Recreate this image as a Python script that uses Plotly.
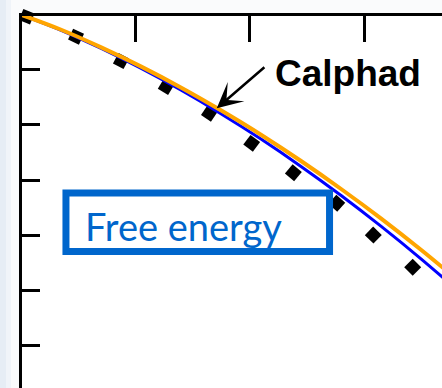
import plotly.graph_objects as go

# Reduced composition (arbitrary units) and Gibbs free energy (arbitrary units)
x_curve = [0.0, 0.35, 0.70, 1.05, 1.40, 1.75, 2.10, 2.45, 2.80, 3.15, 3.50, 3.85]
g_calphad = [0.0, -0.272, -0.591, -0.940, -1.322, -1.736, -2.178, -2.654, -3.161, -3.697, -4.266, -4.866]
g_model = [0.0, -0.281, -0.611, -0.973, -1.368, -1.797, -2.257, -2.752, -3.279, -3.839, -4.431, -5.056]

# Computed reference points
x_pts = [0.054, 0.485, 0.878, 1.271, 1.649, 2.019, 2.383, 2.762, 3.081, 3.425]
g_pts = [-0.040, -0.402, -0.842, -1.308, -1.790, -2.333, -2.866, -3.420, -3.995, -4.580]

x_ticks = [1, 2, 3]
y_ticks = [-1, -2, -3, -4, -5, -6]

X_RANGE = [0.0131, 3.681]
Y_RANGE = [-6.766, -0.027]

fig = go.Figure()

fig.add_trace(go.Scatter(
    x=x_pts, y=g_pts, mode="markers",
    marker=dict(symbol="square", size=12, color="black",
                angle=[22, 25, 28, 31, 34, 37, 40, 42, 44, 45],
                line=dict(width=0)),
    cliponaxis=False, showlegend=False, hoverinfo="skip",
))
fig.add_trace(go.Scatter(
    x=x_curve, y=g_model, mode="lines",
    line=dict(color="#0000FF", width=3, shape="spline", smoothing=1.0),
    showlegend=False, hoverinfo="skip",
))
fig.add_trace(go.Scatter(
    x=x_curve, y=g_calphad, mode="lines",
    line=dict(color="#FFA500", width=4, shape="spline", smoothing=1.0),
    showlegend=False, hoverinfo="skip",
))

axis_common = dict(showgrid=False, zeroline=False, showticklabels=False,
                   tickcolor="black", tickwidth=2.5, ticks="inside")

fig.update_layout(
    width=442, height=388,
    margin=dict(l=22, r=0, t=16, b=0, pad=0),
    paper_bgcolor="#fafbfc",
    plot_bgcolor="white",
    xaxis=dict(**axis_common, side="top", range=X_RANGE, tickvals=x_ticks,
               ticklen=26, showline=True, linecolor="black", linewidth=2.5,
               layer="below traces"),
    xaxis2=dict(**axis_common, side="bottom", overlaying="x", anchor="y",
                range=X_RANGE, tickvals=x_ticks, ticklen=23, showline=False,
                layer="below traces"),
    yaxis=dict(**axis_common, side="left", range=Y_RANGE, tickvals=y_ticks,
               ticklen=18, showline=True, linecolor="black", linewidth=3,
               layer="below traces"),
    yaxis2=dict(**axis_common, side="right", overlaying="y", anchor="x",
                range=Y_RANGE, tickvals=y_ticks, ticklen=11, showline=False,
                layer="below traces"),
    shapes=[
        # soft slide edge on the left
        dict(type="rect", xref="paper", yref="paper", xsizemode="pixel",
             xanchor=0, x0=-22, x1=-16, y0=-0.1, y1=1.2,
             fillcolor="#e6edf5", line=dict(width=0), layer="below"),
        dict(type="rect", xref="paper", yref="paper", xsizemode="pixel",
             xanchor=0, x0=-16, x1=-11, y0=-0.1, y1=1.2,
             fillcolor="#f0f4f9", line=dict(width=0), layer="below"),
        # label frame
        dict(type="rect", xref="x", yref="y", x0=0.397, x1=2.699,
             y0=-3.234, y1=-4.293, line=dict(color="#0066CC", width=7),
             fillcolor="rgba(255,255,255,0)", layer="above"),
    ],
    annotations=[
        dict(text="<b>Calphad</b>", x=2.205, y=-1.06, xref="x", yref="y",
             xanchor="left", yanchor="middle", showarrow=False,
             font=dict(family="Liberation Sans, Arial", size=37, color="black")),
        dict(text="", x=1.714, y=-1.699, xref="x", yref="y",
             ax=2.143, ay=-0.933, axref="x", ayref="y",
             showarrow=True, arrowhead=3, arrowsize=1.7, arrowwidth=2.5,
             arrowcolor="black", standoff=0),
        dict(text="Free energy", x=0.550, y=-3.84, xref="x", yref="y",
             xanchor="left", yanchor="middle", showarrow=False,
             font=dict(family="Lato, Open Sans", size=38, color="#0066CC")),
    ],
)

fig.write_html("out.html")
